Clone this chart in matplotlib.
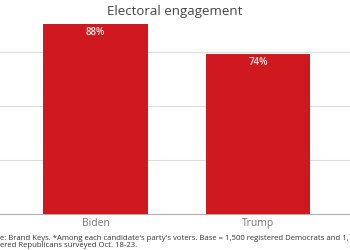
import matplotlib
matplotlib.use('Agg')
import matplotlib.pyplot as plt

# chart data
candidates = ['Biden', 'Trump']
engagement = [88, 74]
value_labels = ['88%', '74%']
title = 'Electoral engagement'
# footnote as visible in the (cropped) reference
footnote = ("e: Brand Keys. *Among each candidate's party's voters. "
            "Base = 1,500 registered Democrats and 1,\n"
            "ered Republicans surveyed Oct. 18-23.")

plt.rcParams['font.family'] = ['Open Sans', 'DejaVu Sans']

W, H = 350, 250
fig = plt.figure(figsize=(W / 100, H / 100), dpi=100)
fig.patch.set_facecolor('white')

# axes: baseline at y=214px, spans full width (chart is cropped at the sides)
base_px = 214
ax = fig.add_axes([0, (H - base_px) / H, 1, base_px / H])
px_per_unit = 2.16
ax.set_ylim(0, base_px / px_per_unit)
spacing = 162.5
ax.set_xlim(-95.5 / spacing, 1 + (W - 258) / spacing)

bar_color = '#d0181f'
x = list(range(len(candidates)))
bars = ax.bar(x, engagement, width=0.646, color=bar_color, zorder=3)

for b, lab in zip(bars, value_labels):
    ax.text(b.get_x() + b.get_width() / 2, b.get_height() - 4.0, lab,
            ha='center', va='center', color='#fbeaea', fontsize=7,
            fontweight='semibold', zorder=4)

ax.set_yticks([25, 50, 75])
ax.yaxis.grid(True, color='#dcdcdc', linewidth=0.8)
ax.tick_params(axis='y', left=False, labelleft=False)
ax.set_xticks(x)
ax.set_xticklabels(candidates, color='#777777', fontsize=7.5)
ax.tick_params(axis='x', length=0, pad=3)
for s in ['top', 'left', 'right']:
    ax.spines[s].set_visible(False)
ax.spines['bottom'].set_color('#b0b0b0')
ax.spines['bottom'].set_linewidth(0.8)
ax.set_axisbelow(True)

fig.text(0.5, 1 - 12 / H, title, ha='center', va='center',
         fontsize=9.5, color='#444444')
fig.text(0.0, 1 - 242 / H, footnote, ha='left', va='center',
         fontsize=5.6, color='#333333', linespacing=1.15)

fig.savefig('out.png', dpi=100, facecolor='white')
